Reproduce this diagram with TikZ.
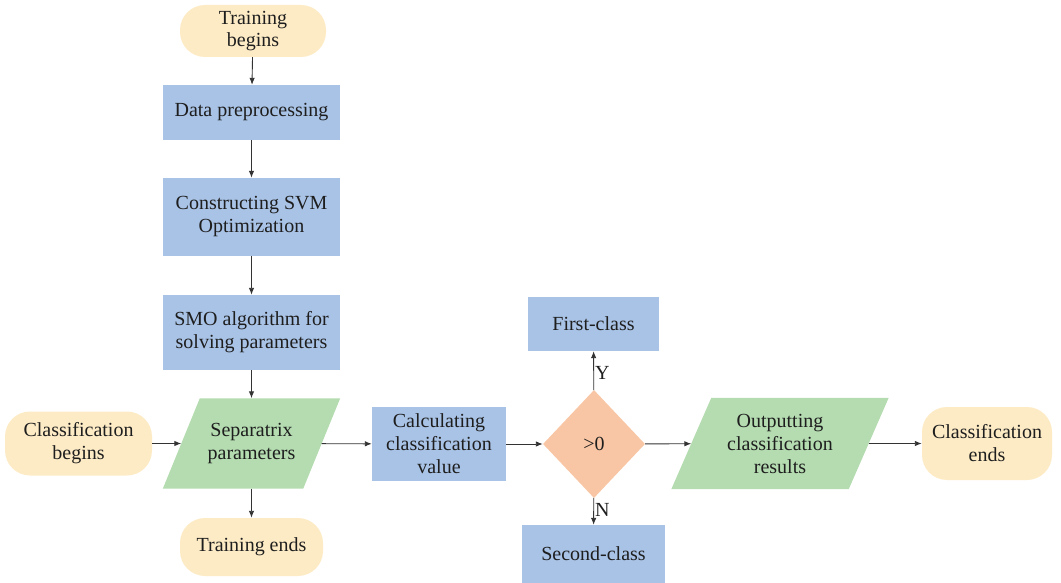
\documentclass[tikz,border=0pt]{standalone}
\usepackage{fontspec}
\setmainfont{Liberation Serif}
\usetikzlibrary{shapes.geometric,arrows.meta,backgrounds}
\definecolor{cyel}{HTML}{FDEBC6}
\definecolor{cblue}{HTML}{A9C3E6}
\definecolor{cgreen}{HTML}{B4DCB0}
\definecolor{corange}{HTML}{F8C6A4}
\definecolor{cline}{HTML}{333333}
\definecolor{ctext}{HTML}{1E1E1E}
\tikzset{
  base/.style={inner sep=2pt, align=center, text=ctext, font=\fontsize{20}{23}\selectfont},
  term/.style={base, fill=cyel, rounded corners=25pt},
  proc/.style={base, fill=cblue},
  io/.style={base},
  dec/.style={base, diamond, fill=corange, inner sep=0pt},
  conn/.style={draw=cline, line width=0.9pt, -{Latex[length=7pt,width=5.5pt]}},
  lab/.style={base, inner sep=1pt}
}
\begin{document}
\begin{tikzpicture}[x=1pt,y=-1pt]
\useasboundingbox (0,0) rectangle (1061,583);
% nodes
\node[term, minimum width=146pt, minimum height=52pt] (tb) at (253,31) {Training\\[-1pt]begins};
\node[proc, minimum width=177pt, minimum height=55pt] (dp) at (251.5,112.5) {Data preprocessing};
\node[proc, minimum width=177pt, minimum height=78pt] (svm) at (251.5,217) {Constructing SVM\\Optimization};
\node[proc, minimum width=177pt, minimum height=75pt] (smo) at (251.5,332.5) {SMO algorithm for\\solving parameters};
\node[io, minimum width=140pt, minimum height=90pt] (sep) at (251.5,443.5) {Separatrix\\parameters};
\node[term, minimum width=143pt, minimum height=58pt] (te) at (251.5,547) {Training ends};
\node[term, minimum width=147pt, minimum height=64pt] (cb) at (78.5,443.5) {Classification\\begins};
\node[proc, minimum width=134pt, minimum height=74pt] (calc) at (439,444) {Calculating\\classification\\value};
\node[dec, minimum width=102pt, minimum height=108pt] (dia) at (594,444) {>0};
\node[proc, minimum width=131pt, minimum height=54pt] (first) at (593.5,324) {First-class};
\node[proc, minimum width=143pt, minimum height=58pt] (second) at (593.5,554) {Second-class};
\node[io, minimum width=177pt, minimum height=91pt] (out) at (780,443.5) {Outputting\\classification\\results};
\node[term, minimum width=130pt, minimum height=73pt] (ce) at (987,443.5) {Classification\\ends};
% parallelogram fills
\begin{pgfonlayer}{background}
\fill[cgreen] ([xshift=18.5pt]sep.north west) -- ([xshift=18.5pt]sep.north east)
  -- ([xshift=-18.5pt]sep.south east) -- ([xshift=-18.5pt]sep.south west) -- cycle;
\fill[cgreen] ([xshift=20pt]out.north west) -- ([xshift=20pt]out.north east)
  -- ([xshift=-20pt]out.south east) -- ([xshift=-20pt]out.south west) -- cycle;
\end{pgfonlayer}
% connectors
\draw[conn] (tb) -- (dp);
\draw[conn] (dp) -- (svm);
\draw[conn] (svm) -- (smo);
\draw[conn] (smo) -- (sep);
\draw[conn] (sep) -- (te);
\draw[conn] (cb) -- (sep);
\draw[conn] (sep) -- (calc);
\draw[conn] (calc) -- (dia);
\draw[conn] (dia) -- node[lab, right, pos=0.45] {Y} (first);
\draw[conn] (dia) -- node[lab, right, pos=0.45] {N} (second);
\draw[conn] (dia) -- (out);
\draw[conn] (out) -- (ce);
\end{tikzpicture}
\end{document}
